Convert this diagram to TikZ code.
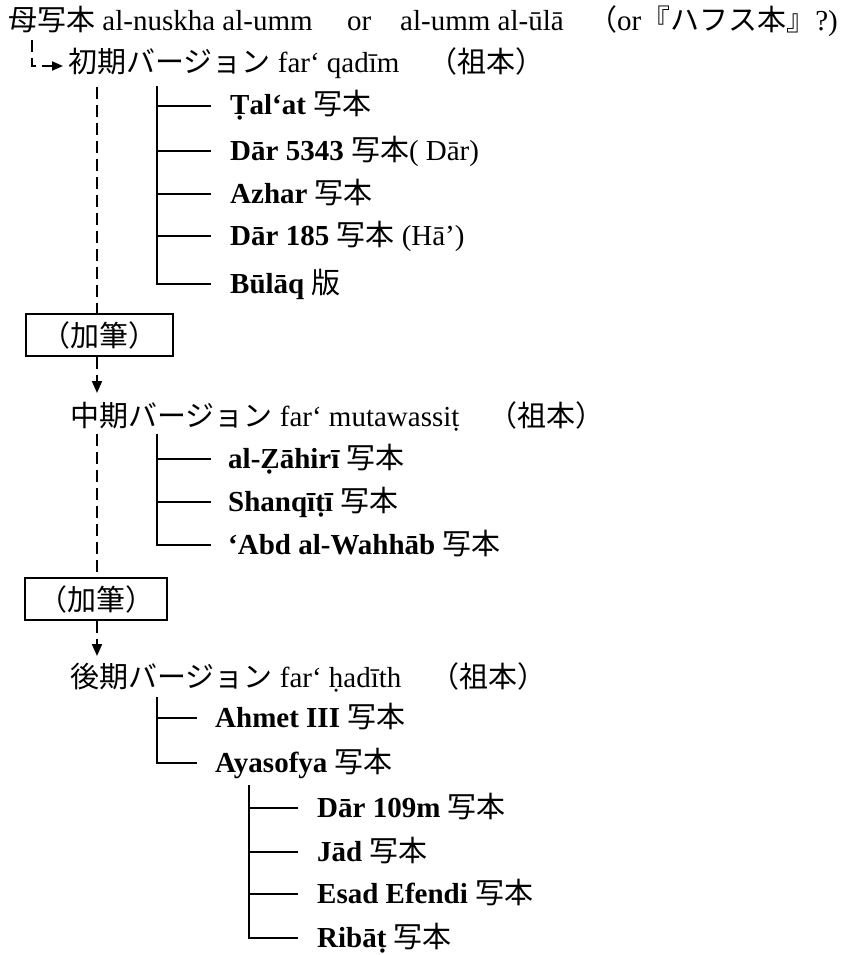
\documentclass[tikz,border=0pt]{standalone}
\usepackage{fontspec}
\setmainfont{Liberation Serif}
\newfontfamily\jp{Noto Sans CJK JP}
\usetikzlibrary{arrows.meta,calc}
\begin{document}
\begin{tikzpicture}[x=1pt,y=-1pt,
  every node/.style={font=\fontsize{29}{34}\selectfont, inner sep=0pt},
  item/.style={anchor=west, text height=18pt, text depth=0pt},
  head/.style={anchor=base west},
  tline/.style={line width=1.8pt},
  dline/.style={line width=2pt, dash pattern=on 12pt off 6pt},
  addbox/.style={draw, line width=1.8pt, minimum height=42pt},
  tip/.style={-{Triangle[length=12pt,width=10pt]}},
  smalltip/.style={-{Triangle[length=11pt,width=9pt]}}
]
\useasboundingbox (0,0) rectangle (846,955);

% title
\node[head] (root) at (8,31) {{\jp 母写本} al-nuskha al-umm};
\node[head] (tor) at (347,31) {or};
\node[head] (tula) at (400,31) {al-umm al-ūlā};
\node[anchor=base east] (thafs) at (838,31) {{\jp （}or{\jp 『ハフス本』}?)};

% early version
\node[head] (h1) at (68,73) {{\jp 初期バージョン} far‘ qadīm{\jp 　（祖本）}};
\coordinate (e0) at (32,40);
\coordinate (e1) at (63,66);
\draw[dline, smalltip] (e0) |- (e1);

% tree 1
\coordinate (t1) at (157,86);
\node[item] (a1) at (230,106) {{\bfseries Ṭal‘at} {\jp 写本}};
\node[item] (a2) at (230,151) {{\bfseries Dār 5343} {\jp 写本}( Dār)};
\node[item] (a3) at (230,194) {{\bfseries Azhar} {\jp 写本}};
\node[item] (a4) at (230,236) {{\bfseries Dār 185} {\jp 写本} (Hā’)};
\node[item] (a5) at (230,284) {{\bfseries Būlāq} {\jp 版}};
\foreach \n in {a1,a2,a3,a4}{\draw[tline] (t1 |- \n.west) -- ($(\n.west)+(-19,0)$);}
\draw[tline] (t1) |- ($(a5.west)+(-19,0)$);

% first addition box
\coordinate (d1) at (97,87);
\node[addbox, minimum width=147pt] (box1) at (99.5,335) {\jp （加筆）};
\draw[dline] (d1) -- (d1 |- box1.north);
\coordinate (p2) at (97,393);
\draw[dline, tip] (d1 |- box1.south) -- (p2);

% middle version
\node[head] (h2) at (70,426) {{\jp 中期バージョン} far‘ mutawassiṭ{\jp 　（祖本）}};
\coordinate (t2) at (157,434);
\node[item] (b1) at (228,459) {{\bfseries al-Ẓāhirī} {\jp 写本}};
\node[item] (b2) at (228,502) {{\bfseries Shanqīṭī} {\jp 写本}};
\node[item] (b3) at (228,545) {{\bfseries ‘Abd al-Wahhāb} {\jp 写本}};
\foreach \n in {b1,b2}{\draw[tline] (t2 |- \n.west) -- ($(\n.west)+(-17,0)$);}
\draw[tline] (t2) |- ($(b3.west)+(-17,0)$);

% second addition box
\coordinate (d2) at (97,434);
\node[addbox, minimum width=142pt] (box2) at (96,599) {\jp （加筆）};
\draw[dline] (d2) -- (d2 |- box2.north);
\coordinate (p3) at (97,656);
\draw[dline, tip] (d2 |- box2.south) -- (p3);

% late version
\node[head] (h3) at (70,687) {{\jp 後期バージョン} far‘ ḥadīth{\jp 　（祖本）}};
\coordinate (t3) at (157,697);
\node[item] (c1) at (215,718) {{\bfseries Ahmet III} {\jp 写本}};
\node[item] (c2) at (215,763) {{\bfseries Ayasofya} {\jp 写本}};
\draw[tline] (t3 |- c1.west) -- ($(c1.west)+(-18,0)$);
\draw[tline] (t3) |- ($(c2.west)+(-18,0)$);

% tree 4
\coordinate (t4) at (249,785);
\node[item] (g1) at (317,808) {{\bfseries Dār 109m} {\jp 写本}};
\node[item] (g2) at (317,852) {{\bfseries Jād} {\jp 写本}};
\node[item] (g3) at (317,894) {{\bfseries Esad Efendi} {\jp 写本}};
\node[item] (g4) at (317,938) {{\bfseries Ribāṭ} {\jp 写本}};
\foreach \n in {g1,g2,g3}{\draw[tline] (t4 |- \n.west) -- ($(\n.west)+(-19,0)$);}
\draw[tline] (t4) |- ($(g4.west)+(-19,0)$);
\end{tikzpicture}
\end{document}
